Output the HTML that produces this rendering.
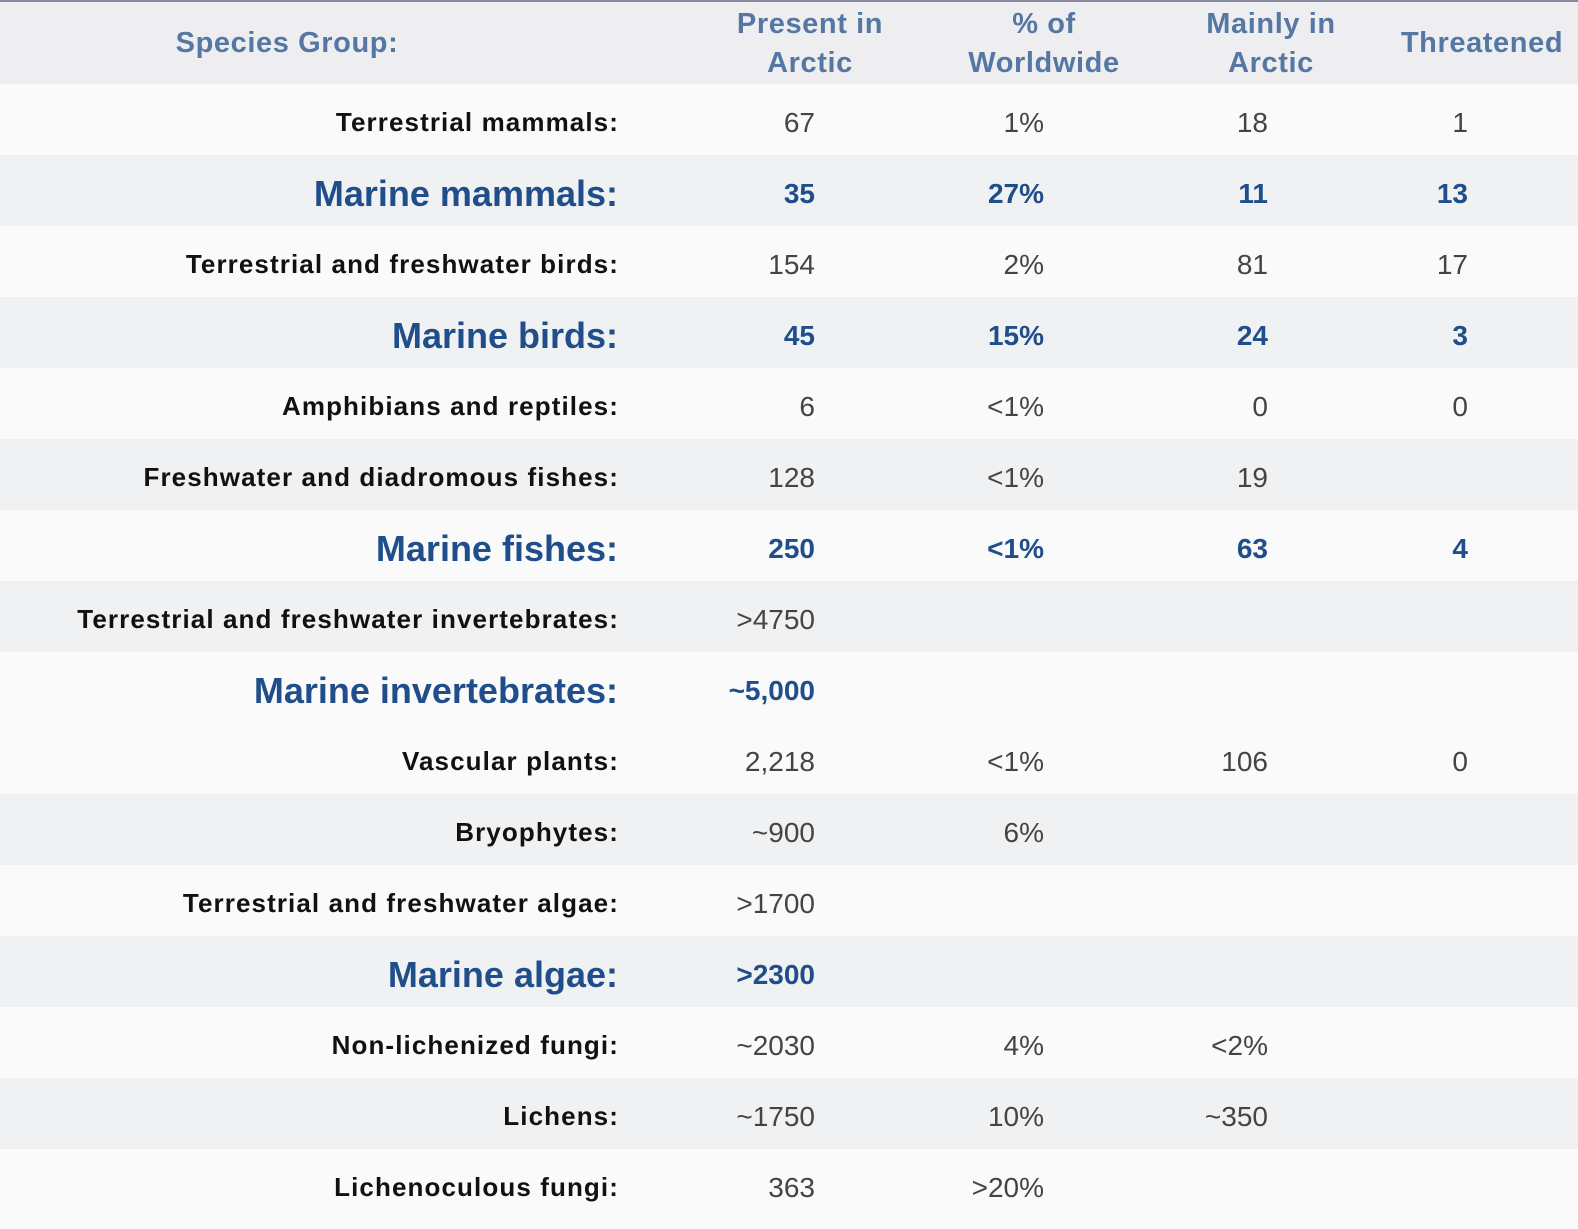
<!DOCTYPE html>
<html><head><style>
body{margin:0;width:1578px;height:1229px;background:#fafafa;font-family:"Liberation Sans",sans-serif;position:relative;overflow:hidden}
.top{position:absolute;left:0;top:0;width:1578px;height:2px;background:#8a8aa0}
.hdr{position:absolute;left:0;top:2px;width:1578px;height:82px;background:#eeeef1}
.row{position:absolute;left:0;width:1578px;height:71px}
.g{background:#f0f1f3}.w{background:#fafafa}
.h{position:absolute;color:#5577a3;font-weight:bold;font-size:29px;letter-spacing:0.6px;text-align:center;line-height:39px}
.c{position:absolute;top:3px;line-height:71px;text-align:right;white-space:nowrap}
.l{right:959px;font-weight:bold;font-size:26px;letter-spacing:1.1px;color:#111}
.lm{right:960px;font-weight:bold;font-size:36px;color:#1f4e8a}
.v{font-size:28px;color:#444}
.vb{font-size:28px;color:#1f4e8a;font-weight:bold}
.c1{right:763px}.c2{right:534px}.c3{right:310px}.c4{right:110px}
</style></head><body>
<div class="top"></div>
<div class="hdr"></div>
<div class="h" style="left:100px;width:374px;top:24px">Species Group:</div>
<div class="h" style="left:690px;width:240px;top:5px">Present in<br>Arctic</div>
<div class="h" style="left:924px;width:240px;top:5px">% of<br>Worldwide</div>
<div class="h" style="left:1151px;width:240px;top:5px">Mainly in<br>Arctic</div>
<div class="h" style="left:1382px;width:200px;top:24px">Threatened</div>

<div class="row w" style="top:84px"><span class="c l">Terrestrial mammals:</span><span class="c v c1">67</span><span class="c v c2">1%</span><span class="c v c3">18</span><span class="c v c4">1</span></div>
<div class="row g" style="top:155px"><span class="c lm">Marine mammals:</span><span class="c vb c1">35</span><span class="c vb c2">27%</span><span class="c vb c3">11</span><span class="c vb c4">13</span></div>
<div class="row w" style="top:226px"><span class="c l">Terrestrial and freshwater birds:</span><span class="c v c1">154</span><span class="c v c2">2%</span><span class="c v c3">81</span><span class="c v c4">17</span></div>
<div class="row g" style="top:297px"><span class="c lm">Marine birds:</span><span class="c vb c1">45</span><span class="c vb c2">15%</span><span class="c vb c3">24</span><span class="c vb c4">3</span></div>
<div class="row w" style="top:368px"><span class="c l">Amphibians and reptiles:</span><span class="c v c1">6</span><span class="c v c2">&lt;1%</span><span class="c v c3">0</span><span class="c v c4">0</span></div>
<div class="row g" style="top:439px"><span class="c l">Freshwater and diadromous fishes:</span><span class="c v c1">128</span><span class="c v c2">&lt;1%</span><span class="c v c3">19</span></div>
<div class="row w" style="top:510px"><span class="c lm">Marine fishes:</span><span class="c vb c1">250</span><span class="c vb c2">&lt;1%</span><span class="c vb c3">63</span><span class="c vb c4">4</span></div>
<div class="row g" style="top:581px"><span class="c l">Terrestrial and freshwater invertebrates:</span><span class="c v c1">&gt;4750</span></div>
<div class="row w" style="top:652px"><span class="c lm">Marine invertebrates:</span><span class="c vb c1">~5,000</span></div>
<div class="row w" style="top:723px"><span class="c l">Vascular plants:</span><span class="c v c1">2,218</span><span class="c v c2">&lt;1%</span><span class="c v c3">106</span><span class="c v c4">0</span></div>
<div class="row g" style="top:794px"><span class="c l">Bryophytes:</span><span class="c v c1">~900</span><span class="c v c2">6%</span></div>
<div class="row w" style="top:865px"><span class="c l">Terrestrial and freshwater algae:</span><span class="c v c1">&gt;1700</span></div>
<div class="row g" style="top:936px"><span class="c lm">Marine algae:</span><span class="c vb c1">&gt;2300</span></div>
<div class="row w" style="top:1007px"><span class="c l">Non-lichenized fungi:</span><span class="c v c1">~2030</span><span class="c v c2">4%</span><span class="c v c3">&lt;2%</span></div>
<div class="row g" style="top:1078px"><span class="c l">Lichens:</span><span class="c v c1">~1750</span><span class="c v c2">10%</span><span class="c v c3">~350</span></div>
<div class="row w" style="top:1149px"><span class="c l">Lichenoculous fungi:</span><span class="c v c1">363</span><span class="c v c2">&gt;20%</span></div>
</body></html>
